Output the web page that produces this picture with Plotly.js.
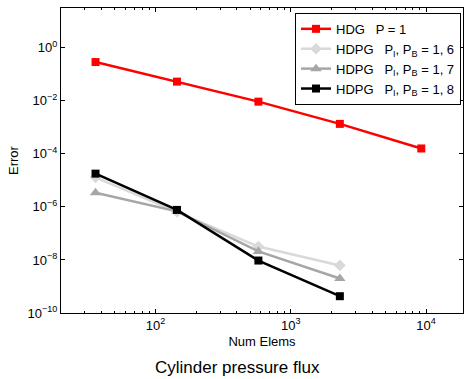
<!DOCTYPE html>
<html>
<head>
<meta charset="utf-8">
<script src="https://cdn.plot.ly/plotly-3.0.1.min.js"></script>
<style>html,body{margin:0;padding:0;background:#fff;}#chart{width:464px;height:379px;}</style>
</head>
<body>
<div id="chart"></div>
<script>
const numElems = [36, 144, 576, 2304, 9216];
const hdgP1 = [0.29, 0.053, 0.0093, 0.00135, 0.00016];
const hdpgP6 = [1.3e-5, 6.5e-7, 3.2e-8, 6.2e-9];
const hdpgP7 = [3.4e-6, 6.8e-7, 2.1e-8, 2.0e-9];
const hdpgP8 = [1.8e-5, 7.7e-7, 9.5e-9, 4.3e-10];
const seriesNames = ['HDG   P = 1', 'HDPG   P<sub>I</sub>, P<sub>B</sub> = 1, 6', 'HDPG   P<sub>I</sub>, P<sub>B</sub> = 1, 7', 'HDPG   P<sub>I</sub>, P<sub>B</sub> = 1, 8'];
const yTickVals = [1e-10, 1e-8, 1e-6, 1e-4, 1e-2, 1];
const yTickText = ['10<sup>−10</sup>', '10<sup>−8</sup>', '10<sup>−6</sup>', '10<sup>−4</sup>', '10<sup>−2</sup>', '10<sup>0</sup>'];
const xTickVals = [100, 1000, 10000];
const xTickText = ['10<sup>2</sup>', '10<sup>3</sup>', '10<sup>4</sup>'];

const traces = [
  {x: numElems, y: hdgP1, name: seriesNames[0], mode: 'lines+markers',
   line: {color: '#ff0000', width: 2.5}, marker: {symbol: 'square', size: 8, color: '#ff0000'}},
  {x: numElems.slice(0, 4), y: hdpgP6, name: seriesNames[1], mode: 'lines+markers',
   line: {color: '#d9d9d9', width: 2.5}, marker: {symbol: 'diamond', size: 9, color: '#d9d9d9'}},
  {x: numElems.slice(0, 4), y: hdpgP7, name: seriesNames[2], mode: 'lines+markers',
   line: {color: '#a6a6a6', width: 2.5}, marker: {symbol: 'triangle-up', size: 10, color: '#a6a6a6'}},
  {x: numElems.slice(0, 4), y: hdpgP8, name: seriesNames[3], mode: 'lines+markers',
   line: {color: '#000000', width: 2.5}, marker: {symbol: 'square', size: 8, color: '#000000'}}
];

const layout = {
  width: 464, height: 379,
  margin: {l: 61, r: 1, t: 8, b: 66, autoexpand: false},
  paper_bgcolor: '#fff', plot_bgcolor: '#fff',
  font: {family: 'Liberation Sans, Arial, sans-serif', size: 13, color: '#000'},
  showlegend: true,
  legend: {x: 0.995, y: 0.984, xanchor: 'right', yanchor: 'top', bordercolor: '#000', borderwidth: 1,
           bgcolor: '#fff', font: {size: 13}, tracegroupgap: 0, itemwidth: 30},
  xaxis: {type: 'log', range: [Math.log10(20), 4.273], showgrid: false, zeroline: false,
          showline: true, linecolor: '#000', linewidth: 1, mirror: 'ticks',
          ticks: 'inside', ticklen: 4, tickcolor: '#000',
          tickmode: 'array', tickvals: xTickVals, ticktext: xTickText,
          minor: {ticks: 'inside', ticklen: 2, tickcolor: '#000', dtick: 'D1', showgrid: false},
          title: {text: 'Num Elems', font: {size: 13}, standoff: 5}},
  yaxis: {type: 'log', range: [-10, 1.5], showgrid: false, zeroline: false,
          showline: true, linecolor: '#000', linewidth: 1, mirror: 'ticks',
          ticks: 'inside', ticklen: 4, tickcolor: '#000',
          tickmode: 'array', tickvals: yTickVals, ticktext: yTickText,
          title: {text: 'Error', font: {size: 13}, standoff: 5}},
  annotations: [{text: 'Cylinder pressure flux', xref: 'paper', yref: 'paper', x: 0.44, y: -0.178,
                 xanchor: 'center', yanchor: 'middle', showarrow: false, font: {size: 17}}]
};

Plotly.newPlot('chart', traces, layout, {displayModeBar: false, staticPlot: true});
</script>
</body>
</html>
